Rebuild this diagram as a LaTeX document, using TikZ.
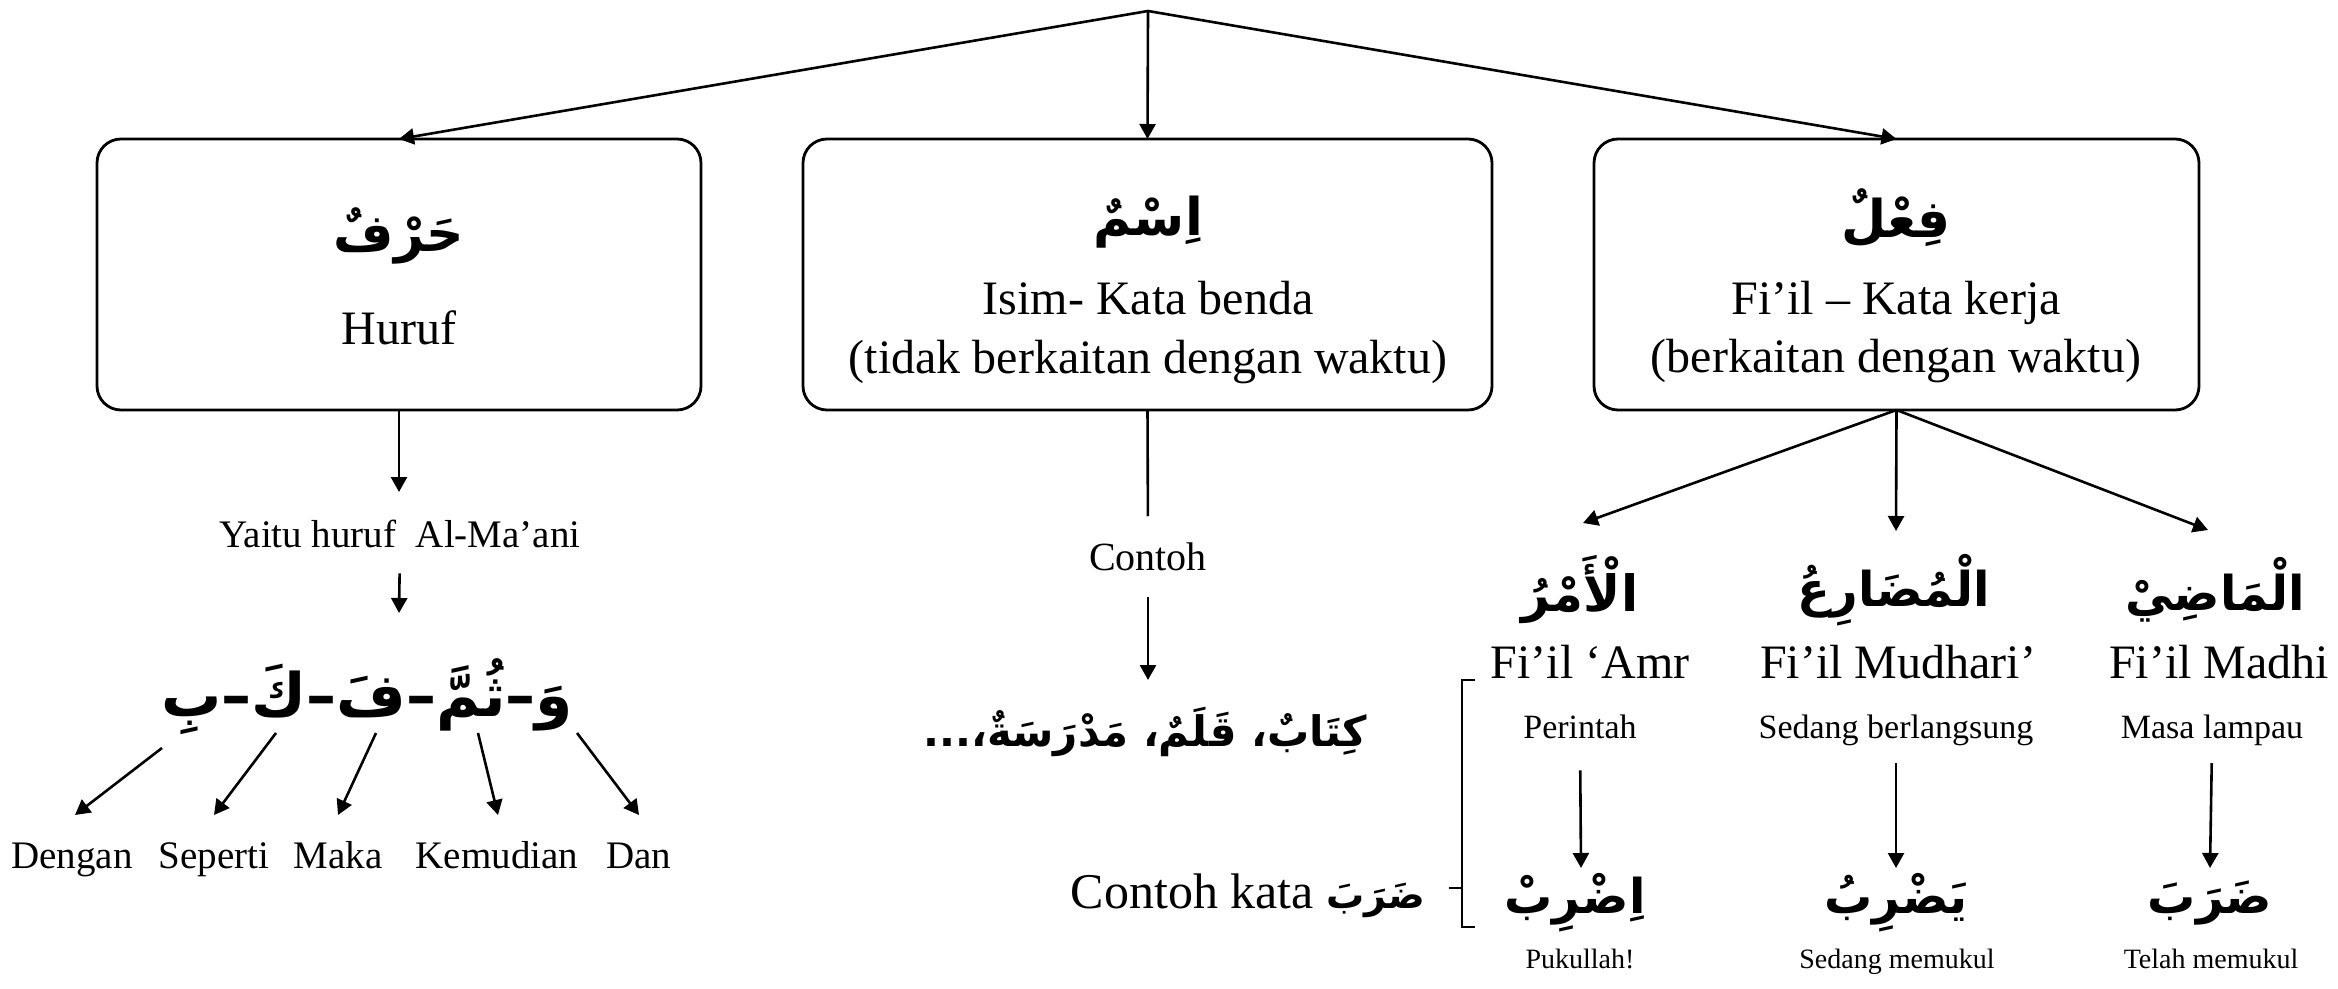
\documentclass[tikz,border=0pt]{standalone}
\usepackage{fontspec}
\setmainfont{Liberation Serif}
\newfontfamily\arabicfont[Script=Arabic]{DejaVu Sans}
\TeXXeTstate=1
\usetikzlibrary{arrows.meta}

% bold Arabic face at a given size (pt)
\newcommand{\arsize}[1]{\arabicfont\bfseries\fontsize{#1}{#1}\selectfont}

\begin{document}
\begin{tikzpicture}[x=0.5pt,y=-0.5pt,
  every node/.style={inner sep=0pt,outer sep=0pt},
  conn/.style={line width=1.3pt},
  arr/.style={conn,-{Triangle[length=7.5pt,width=8pt]}},
  catbox/.style={draw,line width=1.4pt,rounded corners=12pt,minimum height=135.5pt},
  big/.style={font=\fontsize{24}{28}\selectfont},
  lbl/.style={font=\fontsize{19.5}{23}\selectfont},
  desc/.style={font=\fontsize{17}{20}\selectfont},
  tiny/.style={font=\fontsize{14}{17}\selectfont}]

\useasboundingbox (0,0) rectangle (2338,989);

% root of the tree
\coordinate (top) at (1148,11);

% three category boxes
\node[catbox,minimum width=302pt]   (huruf) at (399,274.5) {};
\node[catbox,minimum width=344.5pt] (isim)  at (1147.5,274.5) {};
\node[catbox,minimum width=302.5pt] (fiil)  at (1896.5,274.5) {};

\draw[arr] (top) -- (huruf.north);
\draw[arr] (top) -- (isim.north);
\draw[arr] (top) -- (fiil.north);

% box contents
\node (hurufAr) at (399,236) {\arsize{26}\beginR حَرْفٌ\endR};
\node[big,anchor=base] (hurufLat) at (399,345) {Huruf};

\node (isimAr) at (1148,222) {\arsize{26}\beginR اِسْمٌ\endR};
\node[big,anchor=base] (isimLat) at (1148,315) {Isim- Kata benda};
\node[big,anchor=base] (isimNote) at (1148,373) {(tidak berkaitan dengan waktu)};

\node (fiilAr) at (1896,218) {\arsize{26}\beginR فِعْلٌ\endR};
\node[big,anchor=base] (fiilLat) at (1896,315) {Fi’il – Kata kerja};
\node[big,anchor=base] (fiilNote) at (1896,372) {(berkaitan dengan waktu)};

% ---- Huruf column
\coordinate (yaituTip) at (399,492);
\draw[arr] (huruf.south) -- (yaituTip);
\node[lbl,anchor=base] (yaitu) at (400,547) {Yaitu huruf\ \ Al-Ma’ani};
\coordinate (lettersTip) at (399,613);
\draw[arr,shorten <=13pt] (yaitu.south) -- (lettersTip);

\node (letters) at (367,697) {\arsize{30}\beginR وَ–ثُمَّ–فَ–كَ–بِ\endR};

\node[lbl,anchor=base] (dengan)   at (72,868)  {Dengan};
\node[lbl,anchor=base] (seperti)  at (214,868) {Seperti};
\node[lbl,anchor=base] (maka)     at (338,868) {Maka};
\node[lbl,anchor=base] (kemudian) at (497,868) {Kemudian};
\node[lbl,anchor=base] (dan)      at (639,868) {Dan};

\coordinate (ba)  at (162,748);
\coordinate (kaf) at (276,733);
\coordinate (fa)  at (376,733);
\coordinate (tsumma) at (478,733);
\coordinate (wau) at (577,733);
\coordinate (denganTip)   at (75,815);
\coordinate (sepertiTip)  at (214,815);
\coordinate (makaTip)     at (338,815);
\coordinate (kemudianTip) at (498,815);
\coordinate (danTip)      at (639,815);
\draw[arr] (ba) -- (denganTip);
\draw[arr] (kaf) -- (sepertiTip);
\draw[arr] (fa) -- (makaTip);
\draw[arr] (tsumma) -- (kemudianTip);
\draw[arr] (wau) -- (danTip);

% ---- Isim column
\node[font=\fontsize{20}{24}\selectfont,anchor=base] (contoh) at (1148,570) {Contoh};
\draw[conn,shorten >=13pt] (isim.south) -- (contoh.north);
\coordinate (listTip) at (1148,680);
\draw[arr,shorten <=13.5pt] (contoh.south) -- (listTip);
\node (isimList) at (1145,732) {\arsize{21}\beginR كِتَابٌ، قَلَمٌ، مَدْرَسَةٌ،...\endR};

% ---- Fi'il column
\coordinate (amrTip)  at (1583,523);
\coordinate (mudTip)  at (1896,531);
\coordinate (madTip)  at (2208,530);
\draw[arr] (fiil.south) -- (amrTip);
\draw[arr] (fiil.south) -- (mudTip);
\draw[arr] (fiil.south) -- (madTip);

\node (amrAr) at (1580,590) {\arsize{25}\beginR الْأَمْرُ\endR};
\node (mudAr) at (1894,590) {\arsize{24}\beginR الْمُضَارِعُ\endR};
\node (madAr) at (2215,590) {\arsize{24}\beginR الْمَاضِيْ\endR};

\node[big,anchor=base] (amrLat) at (1590,678) {Fi’il ‘Amr};
\node[big,anchor=base] (mudLat) at (1898,678) {Fi’il Mudhari’};
\node[big,anchor=base] (madLat) at (2219,678) {Fi’il Madhi};

\node[desc,anchor=base] (amrDesc) at (1580,738) {Perintah};
\node[desc,anchor=base] (mudDesc) at (1896,738) {Sedang berlangsung};
\node[desc,anchor=base] (madDesc) at (2212,738) {Masa lampau};

\coordinate (amrDown) at (1581,868);
\coordinate (mudDown) at (1896,868);
\coordinate (madDown) at (2210,868);
\draw[arr,shorten <=16pt] (amrDesc.south) -- (amrDown);
\draw[arr,shorten <=9pt]  (mudDesc.south) -- (mudDown);
\draw[arr,shorten <=9pt]  (madDesc.south) -- (madDown);

\node (amrEx) at (1575,903) {\arsize{24}\beginR اِضْرِبْ\endR};
\node (mudEx) at (1896,903) {\arsize{24}\beginR يَضْرِبُ\endR};
\node (madEx) at (2210,903) {\arsize{24}\beginR ضَرَبَ\endR};

\node[tiny,anchor=base] (amrMean) at (1580,968) {Pukullah!};
\node[tiny,anchor=base] (mudMean) at (1897,968) {Sedang memukul};
\node[tiny,anchor=base] (madMean) at (2211,968) {Telah memukul};

% example word and its bracket
\node[font=\fontsize{25}{30}\selectfont,anchor=base east] (contohKata) at (1425,908)
  {Contoh kata {\arsize{19}\beginR ضَرَبَ\endR}};
\draw[conn] (1475,680) -- (1462,680) -- (1462,927) -- (1475,927);
\draw[conn] (1462,888) -- (1449,888);

\end{tikzpicture}
\end{document}
